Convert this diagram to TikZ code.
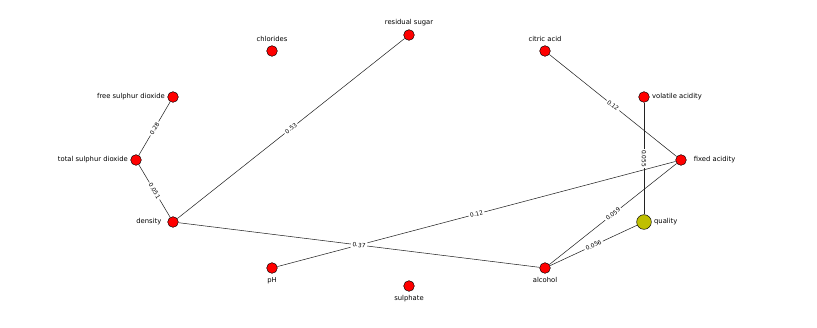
\documentclass[tikz,border=0pt]{standalone}
\usepackage{fontspec}
\setmainfont{DejaVu Sans}
\usetikzlibrary{positioning}
\definecolor{wnred}{HTML}{FF0000}
\definecolor{wnolive}{HTML}{BFBF00}
\definecolor{wnedge}{HTML}{222222}

\begin{document}
\begin{tikzpicture}[x=0.03cm, y=-0.03cm,
  var/.style={circle, draw=black, fill=#1, inner sep=0pt, minimum size=0.32cm},
  vname/.style={font=\fontsize{5.8}{7}\selectfont, inner sep=1pt},
  link/.style={draw=wnedge, line width=0.45pt},
  wt/.style={sloped, fill=white, inner sep=1.3pt, font=\fontsize{5}{6}\selectfont},
]
  \useasboundingbox (0,0) rectangle (817,327);

  % variables
  \node[var=wnred] (free) at (173, 97) {};
  \node[var=wnred] (total) at (136, 160) {};
  \node[var=wnred] (density) at (173, 222) {};
  \node[var=wnred] (ph) at (272, 268) {};
  \node[var=wnred] (sulphate) at (409, 286) {};
  \node[var=wnred] (alcohol) at (545, 268) {};
  \node[var=wnolive, minimum size=0.44cm] (quality) at (644, 222) {};
  \node[var=wnred] (fixed) at (681, 160) {};
  \node[var=wnred] (volatile) at (644, 97) {};
  \node[var=wnred] (citric) at (545, 51) {};
  \node[var=wnred] (sugar) at (409, 35) {};
  \node[var=wnred] (chlorides) at (272, 51) {};

  % names
  \node[vname, left=1pt of free] {free sulphur dioxide};
  \node[vname, left=1pt of total] {total sulphur dioxide};
  \node[vname, left=4pt of density] {density};
  \node[vname, below=2pt of ph] {pH};
  \node[vname, below=2pt of sulphate] {sulphate};
  \node[vname, below=2pt of alcohol] {alcohol};
  \node[vname, right=1pt of quality] {quality};
  \node[vname, right=5pt of fixed] {fixed acidity};
  \node[vname, right=1pt of volatile] {volatile acidity};
  \node[vname, above=2pt of citric] {citric acid};
  \node[vname, above=2pt of sugar] {residual sugar};
  \node[vname, above=2pt of chlorides] {chlorides};

  % weighted links
  \draw[link] (free) -- node[wt] {0.28} (total);
  \draw[link] (total) -- node[wt] {0.051} (density);
  \draw[link] (density) -- node[wt] {0.53} (sugar);
  \draw[link] (ph) -- node[wt] {0.12} (fixed);
  \draw[link] (density) -- node[wt] {0.37} (alcohol);
  \draw[link] (citric) -- node[wt] {0.12} (fixed);
  \draw[link] (volatile) -- node[wt] {0.055} (quality);
  \draw[link] (fixed) -- node[wt] {0.059} (alcohol);
  \draw[link] (alcohol) -- node[wt] {0.056} (quality);
\end{tikzpicture}
\end{document}
